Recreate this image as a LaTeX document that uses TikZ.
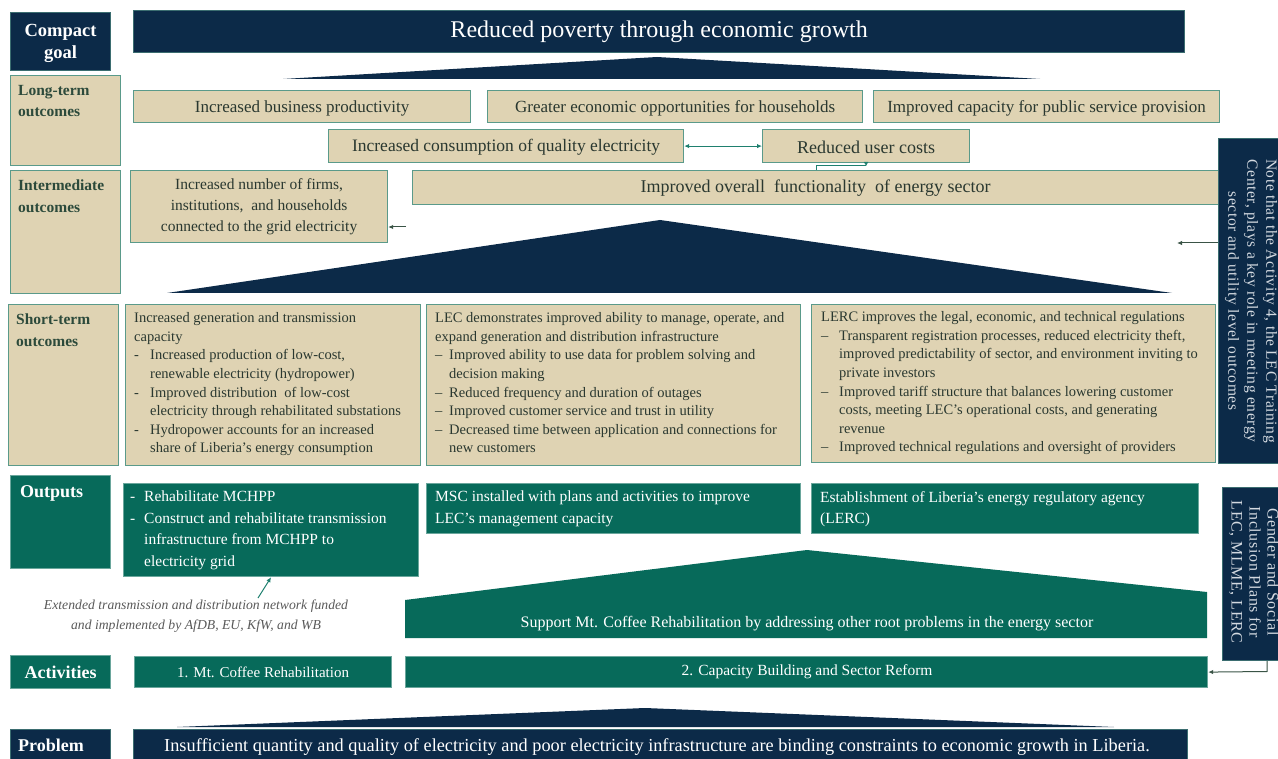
\documentclass[tikz,border=0pt]{standalone}
\usepackage{fontspec}
\setmainfont{Liberation Serif}
\newfontfamily\notefont[LetterSpace=4]{Liberation Serif}
\usetikzlibrary{arrows.meta}
\definecolor{navy}{HTML}{0C2A48}
\definecolor{tanc}{HTML}{DFD3B3}
\definecolor{tanline}{HTML}{5A9A8A}
\definecolor{grn}{HTML}{076A5A}
\definecolor{lbl}{HTML}{2C4A3B}
\definecolor{txt}{HTML}{2A3830}
\definecolor{tealc}{HTML}{1F806F}
\definecolor{notetxt}{HTML}{D3D9E0}
\definecolor{darkarr}{HTML}{3A5446}
\newcommand\dl[1]{\makebox[16pt][l]{-}#1}
\newcommand\el[1]{\makebox[14pt][l]{--}#1}
\newcommand\il[1]{\hspace*{16pt}#1}
\newcommand\jl[1]{\hspace*{14pt}#1}
\newcommand\kl[1]{\makebox[18pt][l]{--}#1}
\newcommand\ml[1]{\hspace*{18pt}#1}
\tikzset{
  box/.style={anchor=north west, inner sep=0pt, line width=1.2pt},
  tanbox/.style={box, fill=tanc, draw=tanline},
  navybox/.style={box, fill=navy, draw=tanline!60!navy},
  grnbox/.style={box, fill=grn, draw=grn!60!white},
  lbltext/.style={anchor=north west, inner sep=0pt, align=left, text=lbl, font=\fontsize{15.5}{21.5}\selectfont\bfseries},
  wlbl/.style={inner sep=0pt, align=left, text=white, font=\fontsize{18}{22}\selectfont\bfseries},
  bigtxt/.style={inner sep=0pt, text=txt, font=\fontsize{17}{21}\selectfont},
  sttxt/.style={anchor=north west, inner sep=0pt, align=left, text=txt, font=\fontsize{14.5}{18.6}\selectfont},
  outtxt/.style={anchor=north west, inner sep=0pt, align=left, text=white, font=\fontsize{15.5}{21.5}\selectfont},
  notet/.style={inner sep=0pt, align=center, rotate=-90, text=notetxt},
  tarrow/.style={draw=tealc, line width=1pt, -{Latex[length=5pt,width=4.5pt]}},
  darrow/.style={draw=darkarr, line width=1pt, -{Latex[length=5pt,width=4.5pt]}},
}
\begin{document}
\begin{tikzpicture}[x=1pt,y=-1pt]
\useasboundingbox (0,0) rectangle (1278,759);
\clip (0,0) rectangle (1278,759);

% ---------- left labels ----------
\node[navybox, minimum width=100pt, minimum height=58pt] (lcg) at (10,12) {};
\node[wlbl, align=center, font=\fontsize{18.5}{22}\selectfont\bfseries] (lcgt) at ([yshift=-2pt]lcg.center) {Compact\\goal};
\node[tanbox, minimum width=110pt, minimum height=90pt] (llt) at (10,75) {};
\node[lbltext] (lltt) at (18,85) {Long-term\\outcomes};
\node[tanbox, minimum width=110pt, minimum height=123pt] (lint) at (10,170) {};
\node[lbltext] (lintt) at (18,180) {Intermediate\\outcomes};
\node[tanbox, minimum width=110pt, minimum height=161pt] (lst) at (8,304) {};
\node[lbltext] (lstt) at (16,314) {Short-term\\outcomes};
\node[grnbox, minimum width=100pt, minimum height=93pt] (lout) at (10,475) {};
\node[wlbl, anchor=north west] (loutt) at (20,485) {Outputs};
\node[grnbox, minimum width=100pt, minimum height=33pt] (lact) at (10,655) {};
\node[wlbl] (lactt) at (lact.center) {Activities};
\node[navybox, minimum width=100pt, minimum height=36pt] (lprob) at (10,729) {};
\node[wlbl, anchor=north west] (lprobt) at (18,739) {Problem};

% ---------- goal ----------
\node[navybox, minimum width=1051pt, minimum height=42pt] (goal) at (133,10) {};
\node[inner sep=0pt, text=white, font=\fontsize{24}{28}\selectfont] (goalt) at (goal.center) {Reduced poverty through economic growth};
\fill[navy] (283,79) -- (657,57) -- (1040,79) -- cycle;

% ---------- long-term ----------
\node[tanbox, minimum width=337pt, minimum height=32pt] (lt1) at (133,90) {};
\node[bigtxt] (lt1t) at ([yshift=-1.5pt]lt1.center) {Increased business productivity};
\node[tanbox, minimum width=375pt, minimum height=32pt] (lt2) at (487,90) {};
\node[bigtxt] (lt2t) at ([yshift=-1.5pt]lt2.center) {Greater economic opportunities for households};
\node[tanbox, minimum width=346pt, minimum height=32pt] (lt3) at (873,90) {};
\node[bigtxt] (lt3t) at ([yshift=-1.5pt]lt3.center) {Improved capacity for public service provision};
\node[tanbox, minimum width=355pt, minimum height=33pt] (cons) at (328,129) {};
\node[bigtxt, font=\fontsize{17.5}{21}\selectfont] (const) at ([yshift=-1.5pt]cons.center) {Increased consumption of quality electricity};
\node[tanbox, minimum width=207pt, minimum height=33pt] (ruc) at (762,129) {};
\node[bigtxt, font=\fontsize{18}{21}\selectfont] (ruct) at ([yshift=-1pt]ruc.center) {Reduced user costs};
\draw[tarrow, {Latex[length=5pt,width=4.5pt]}-{Latex[length=5pt,width=4.5pt]}] (cons.east) -- (ruc.west);

% ---------- intermediate ----------
\node[tanbox, minimum width=257pt, minimum height=72pt] (int1) at (130,170) {};
\node[bigtxt, align=center, font=\fontsize{15.5}{21}\selectfont] (int1t) at (int1.center) {Increased number of firms,\\institutions, \ and households\\connected to the grid electricity};
\node[tanbox, minimum width=806pt, minimum height=34pt] (imp) at (412,170) {};
\node[bigtxt, font=\fontsize{18}{21}\selectfont] (impt) at ([yshift=-1pt]imp.center) {Improved overall \ functionality \ of energy sector};
\coordinate (elb) at (816,166);
\draw[draw=tealc, line width=1pt] (imp.north -| elb) -- (elb) -- (ruc.south |- elb);
\draw[draw=tealc, line width=1pt, -{Latex[length=4pt,width=5pt]}] (ruc.south) -- (ruc.south |- elb);
\coordinate (ia) at (406,227);
\draw[darrow] (ia) -- (int1.east |- ia);
\fill[navy] (167,293) -- (660,220) -- (1172,293) -- cycle;

% ---------- short-term ----------
\node[tanbox, minimum width=295pt, minimum height=161pt] (st1) at (125,304) {};
\node[sttxt] (st1t) at (134,312.5) {Increased generation and transmission\\capacity\\
\dl{Increased production of low-cost,}\\
\il{renewable electricity (hydropower)}\\
\dl{Improved distribution \ of low-cost}\\
\il{electricity through rehabilitated substations}\\
\dl{Hydropower accounts for an increased}\\
\il{share of Liberia's energy consumption}};
\node[tanbox, minimum width=374pt, minimum height=161pt] (st2) at (426,304) {};
\node[sttxt] (st2t) at (435,312.5) {LEC demonstrates improved ability to manage, operate, and\\
expand generation and distribution infrastructure\\
\el{Improved ability to use data for problem solving and}\\
\jl{decision making}\\
\el{Reduced frequency and duration of outages}\\
\el{Improved customer service and trust in utility}\\
\el{Decreased time between application and connections for}\\
\jl{new customers}};
\node[tanbox, minimum width=404pt, minimum height=158pt] (st3) at (811,304) {};
\node[sttxt] (st3t) at (821,311.5) {LERC improves the legal, economic, and technical regulations\\
\kl{Transparent registration processes, reduced electricity theft,}\\
\ml{improved predictability of sector, and environment inviting to}\\
\ml{private investors}\\
\kl{Improved tariff structure that balances lowering customer}\\
\ml{costs, meeting LEC's operational costs, and generating}\\
\ml{revenue}\\
\kl{Improved technical regulations and oversight of providers}};

% ---------- notes ----------
\node[navybox, minimum width=70pt, minimum height=325pt] (note1) at (1218,138) {};
\node[notet, font=\notefont\fontsize{15.5}{19}\selectfont] (note1t) at (1251,301) {Note that the Activity 4, the LEC Training\\Center, plays a key role in meeting energy\\sector and utility level outcomes};
\coordinate (n1e) at (1177,243);
\draw[darrow] (note1.west |- n1e) -- (n1e);
\node[navybox, minimum width=70pt, minimum height=173pt] (note2) at (1222,487) {};
\node[notet, font=\notefont\fontsize{16}{18}\selectfont] (note2t) at (1254,572) {Gender and Social\\Inclusion Plans for\\LEC, MLME, LERC};

% ---------- outputs ----------
\node[grnbox, minimum width=295pt, minimum height=93pt] (out1) at (123,483) {};
\node[outtxt] (out1t) at (130,491) {\makebox[14pt][l]{-}Rehabilitate MCHPP\\
\makebox[14pt][l]{-}Construct and rehabilitate transmission\\
\hspace*{14pt}infrastructure from MCHPP to\\
\hspace*{14pt}electricity grid};
\node[grnbox, minimum width=374pt, minimum height=50pt] (out2) at (426,483) {};
\node[outtxt] (out2t) at (435,491) {MSC installed with plans and activities to improve\\LEC's management capacity};
\node[grnbox, minimum width=387pt, minimum height=50pt] (out3) at (811,483) {};
\node[outtxt] (out3t) at (820,491) {Establishment of Liberia's energy regulatory agency\\(LERC)};
\node[inner sep=0pt, align=center, text=black!65, font=\fontsize{13.7}{20}\selectfont\itshape] (itx) at (196,616) {Extended transmission and distribution network funded\\and implemented by AfDB, EU, KfW, and WB};
\coordinate (ita) at (258,598);
\draw[tarrow] (ita) -- (out1.south);

% ---------- support pentagon ----------
\fill[grn] (405,638) -- (405,600) -- (807,550) -- (1207,592) -- (1207,638) -- cycle;
\node[inner sep=0pt, text=white, font=\fontsize{16}{18}\selectfont] (pent) at (807,624) {Support Mt. Coffee Rehabilitation by addressing other root problems in the energy sector};

% ---------- activities ----------
\node[grnbox, minimum width=257pt, minimum height=31pt] (act1) at (134,656) {};
\node[inner sep=0pt, text=white, font=\fontsize{15}{18}\selectfont] (act1t) at (act1.center) {1. Mt. Coffee Rehabilitation};
\node[grnbox, minimum width=802pt, minimum height=31pt] (act2) at (405,656) {};
\node[inner sep=0pt, text=white, font=\fontsize{15.5}{18}\selectfont] (act2t) at (807,671.5) {2. Capacity Building and Sector Reform};
\coordinate (n2b) at (1267,671.5);
\draw[darrow] (n2b |- note2.south) -- (n2b) -- (act2.east);

% ---------- problem ----------
\fill[navy] (177,727) -- (645,708) -- (1114,727) -- cycle;
\node[navybox, minimum width=1054pt, minimum height=36pt] (prob) at (133,729) {};
\node[inner sep=0pt, text=white, font=\fontsize{18.3}{20}\selectfont] (probt) at (657,747) {Insufficient quantity and quality of electricity and poor electricity infrastructure are binding constraints to economic growth in Liberia.};
\end{tikzpicture}
\end{document}
